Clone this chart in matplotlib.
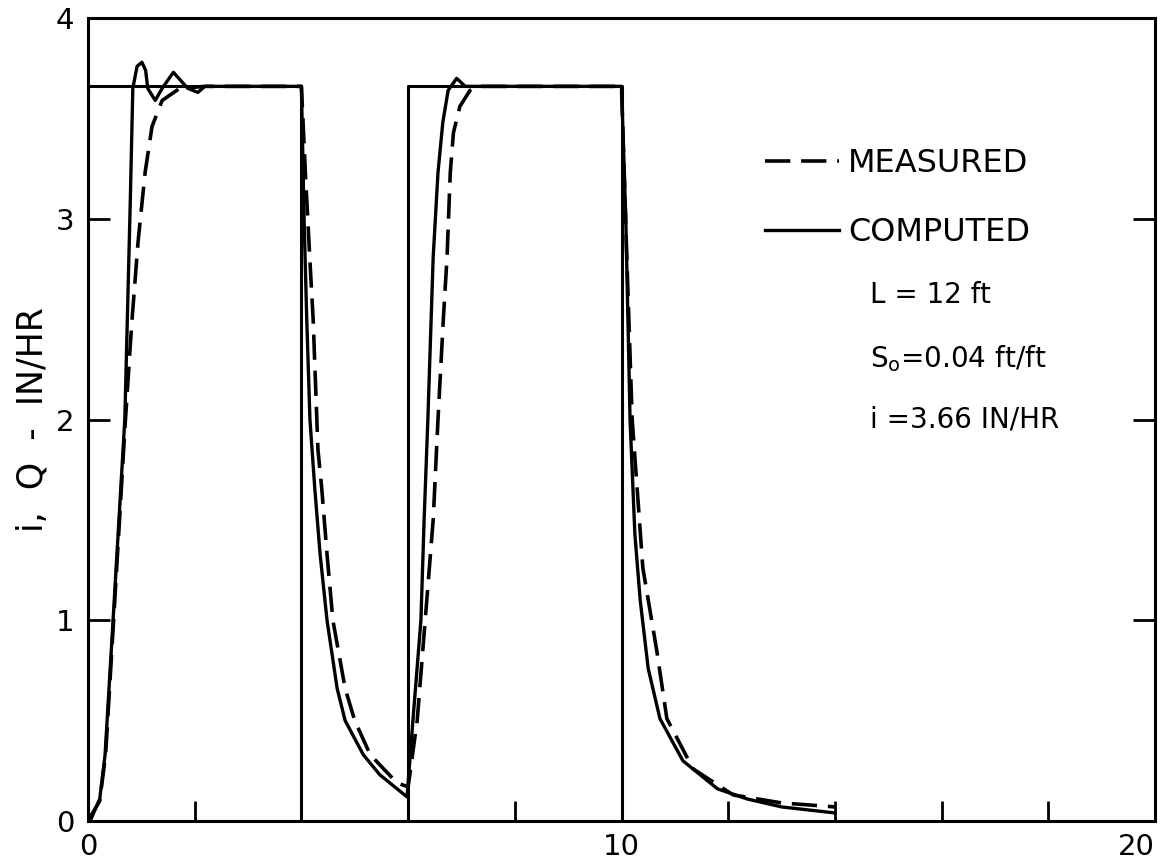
import numpy as np
import matplotlib.pyplot as plt

# rainfall input (rectangular pulses)
rain_t = [0, 0, 4, 4, 6, 6, 10, 10]
rain_i = [0, 3.66, 3.66, 0, 0, 3.66, 3.66, 0]

# computed runoff hydrograph
comp_t = [0, 0.04, 0.22, 0.32, 0.47, 0.69, 0.79, 0.84, 0.92, 1.01, 1.08, 1.12, 1.26, 1.39, 1.6, 1.87, 2.06, 2.19,
          4.0, 4.05, 4.1, 4.16, 4.25, 4.35, 4.48, 4.67, 4.82, 5.16, 5.47, 5.98,
          6.09, 6.24, 6.3, 6.37, 6.47, 6.56, 6.65, 6.75, 6.91, 7.07,
          10.0, 10.08, 10.16, 10.25, 10.35, 10.5, 10.72, 11.15, 11.8, 12.35, 13.0, 14.0]
comp_q = [0, 0.0, 0.11, 0.33, 1.0, 2.0, 3.06, 3.65, 3.76, 3.78, 3.74, 3.65, 3.59, 3.65, 3.73, 3.65, 3.63, 3.66,
          3.66, 3.0, 2.5, 2.0, 1.66, 1.33, 1.0, 0.66, 0.5, 0.33, 0.23, 0.12,
          0.5, 1.0, 1.5, 2.0, 2.81, 3.23, 3.48, 3.64, 3.70, 3.66,
          3.66, 3.0, 2.0, 1.43, 1.1, 0.76, 0.51, 0.3, 0.16, 0.11, 0.07, 0.04]

# measured runoff hydrograph
meas_t = [0, 0.22, 0.33, 0.48, 0.69, 0.82, 0.94, 1.07, 1.2, 1.39, 1.72, 2.2,
          4.0, 4.08, 4.16, 4.22, 4.31, 4.38, 4.48, 4.59, 4.82, 5.0, 5.29, 5.79, 6.0,
          6.17, 6.32, 6.47, 6.56, 6.66, 6.73, 6.79, 6.85, 6.97, 7.16, 7.29,
          10.0, 10.1, 10.2, 10.4, 10.66, 10.85, 11.34, 12.09, 13.0, 14.0]
meas_q = [0, 0.1, 0.33, 1.0, 1.95, 2.48, 2.89, 3.23, 3.46, 3.59, 3.65, 3.66,
          3.66, 3.2, 2.79, 2.5, 1.85, 1.66, 1.33, 1.0, 0.66, 0.5, 0.33, 0.19, 0.17,
          0.5, 1.0, 1.5, 2.0, 2.5, 2.81, 3.23, 3.43, 3.56, 3.64, 3.66,
          3.66, 2.8, 2.0, 1.26, 0.85, 0.51, 0.26, 0.13, 0.09, 0.07]

fig = plt.figure(figsize=(11.64, 8.63), dpi=100)
ax = fig.add_axes([0.0756, 0.0487, 0.9167, 0.9303])

ax.plot(rain_t, rain_i, color='black', lw=2.2)
ax.plot(meas_t, meas_q, color='black', lw=2.6, dashes=(7, 3), label='MEASURED')
ax.plot(comp_t, comp_q, color='black', lw=2.4, label='COMPUTED')

ax.set_xlim(0, 20)
ax.set_ylim(0, 4)
ax.set_xticks([0, 10, 20])
ax.set_xticks(np.arange(2, 20, 2), minor=True)
ax.set_yticks([0, 1, 2, 3, 4])
ax.tick_params(axis='both', which='both', direction='in', width=2, labelsize=21)
ax.tick_params(axis='x', which='both', length=14.5, pad=9)
ax.tick_params(axis='y', which='both', length=16, pad=10, right=True)
for s in ax.spines.values():
    s.set_linewidth(2.2)
# last x label sits flush with the right spine
ax.get_xticklabels()[-1].set_horizontalalignment('right')

ax.set_ylabel('i,  Q  -  IN/HR', fontsize=25, labelpad=4)

ax.legend(loc='upper right', bbox_to_anchor=(0.91, 0.874), frameon=False, fontsize=23,
          handlelength=2.3, handletextpad=0.3, labelspacing=1.2)

ax.text(0.733, 0.645, 'L = 12 ft', transform=ax.transAxes, fontsize=20)
ax.text(0.733, 0.565, r'S$_\mathregular{o}$=0.04 ft/ft', transform=ax.transAxes, fontsize=20)
ax.text(0.733, 0.49, 'i =3.66 IN/HR', transform=ax.transAxes, fontsize=20)

fig.savefig('out.png', dpi=100)
